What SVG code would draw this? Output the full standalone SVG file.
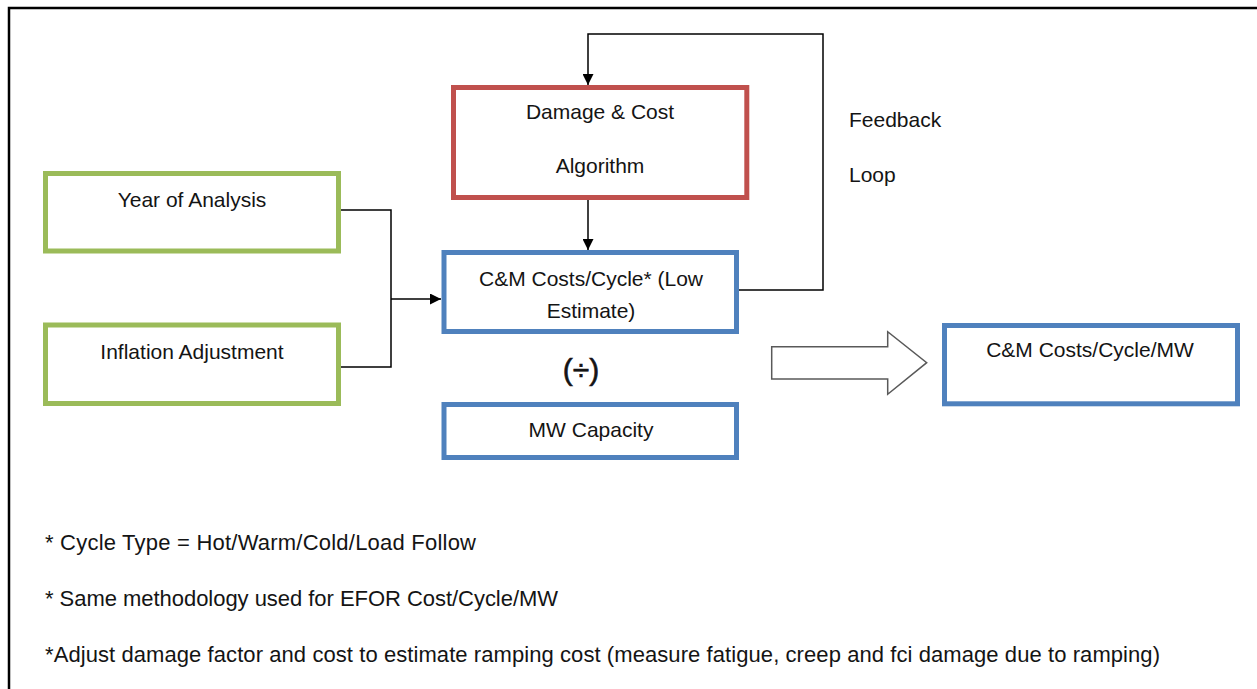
<svg xmlns="http://www.w3.org/2000/svg" width="1257" height="689" viewBox="0 0 1257 689">
  <defs>
    <marker id="ah" viewBox="0 0 10 10" refX="10" refY="5" markerWidth="11" markerHeight="11" markerUnits="userSpaceOnUse" orient="auto">
      <path d="M0,0 L10,5 L0,10 Z" fill="#000"/>
    </marker>
  </defs>
  <style>
    .box { fill: #fff; stroke-width: 5; }
    .green { stroke: #9BBB59; }
    .red { stroke: #C0504D; }
    .blue { stroke: #4F81BD; }
    .t { font-family: "Liberation Sans", Arial, sans-serif; font-size: 21px; fill: #141414; }
    .n { font-size: 22px; }
    .c { text-anchor: middle; }
    .conn { fill: none; stroke: #000; stroke-width: 1.5; }
  </style>
  <rect width="1257" height="689" fill="#fff"/>
  <path d="M9,689 V8 H1257" fill="none" stroke="#000" stroke-width="2.5"/>

  <g id="connectors">
    <path class="conn" d="M338,210 H391 V367 H338"/>
    <path class="conn" d="M391,299 H441" marker-end="url(#ah)"/>
    <path class="conn" d="M737,290 H823 V34 H588 V85" marker-end="url(#ah)"/>
    <path class="conn" d="M588,200 V250" marker-end="url(#ah)"/>
    <polygon points="771.7,346.7 887.7,346.7 887.7,331.7 926.7,362.7 887.7,394.3 887.7,379 771.7,379" fill="#fff" stroke="#595959" stroke-width="1.5" stroke-linejoin="miter"/>
  </g>

  <g id="year">
    <rect class="box green" x="45.5" y="173.5" width="293" height="77.5"/>
    <text class="t c" x="192" y="207">Year of Analysis</text>
  </g>
  <g id="inflation">
    <rect class="box green" x="45.5" y="325" width="293" height="78.5"/>
    <text class="t c" x="192" y="359">Inflation Adjustment</text>
  </g>
  <g id="damage">
    <rect class="box red" x="453.5" y="87.5" width="293.3" height="110"/>
    <text class="t c" x="600" y="119">Damage &amp; Cost</text>
    <text class="t c" x="600" y="173">Algorithm</text>
  </g>
  <g id="cm">
    <rect class="box blue" x="444" y="252.5" width="292.5" height="79"/>
    <text class="t c" x="591" y="286">C&amp;M Costs/Cycle* (Low</text>
    <text class="t c" x="591" y="318">Estimate)</text>
  </g>
  <g id="divide">
    <text class="t c" x="581" y="380" style="font-size:30px" stroke="#141414" stroke-width="0.6">(÷)</text>
  </g>
  <g id="mw">
    <rect class="box blue" x="444" y="404.5" width="292.5" height="53"/>
    <text class="t c" x="591" y="437">MW Capacity</text>
  </g>
  <g id="result">
    <rect class="box blue" x="944.5" y="325.5" width="293" height="78.3"/>
    <text class="t c" x="1090" y="357">C&amp;M Costs/Cycle/MW</text>
  </g>
  <g id="feedback">
    <text class="t" x="849" y="127">Feedback</text>
    <text class="t" x="849" y="182">Loop</text>
  </g>
  <g id="notes">
    <text class="t n" x="45" y="550" textLength="431">* Cycle Type = Hot/Warm/Cold/Load Follow</text>
    <text class="t n" x="45" y="606" textLength="513">* Same methodology used for EFOR Cost/Cycle/MW</text>
    <text class="t n" x="45" y="662" textLength="1115">*Adjust damage factor and cost to estimate ramping cost (measure fatigue, creep and fci damage due to ramping)</text>
  </g>
</svg>
